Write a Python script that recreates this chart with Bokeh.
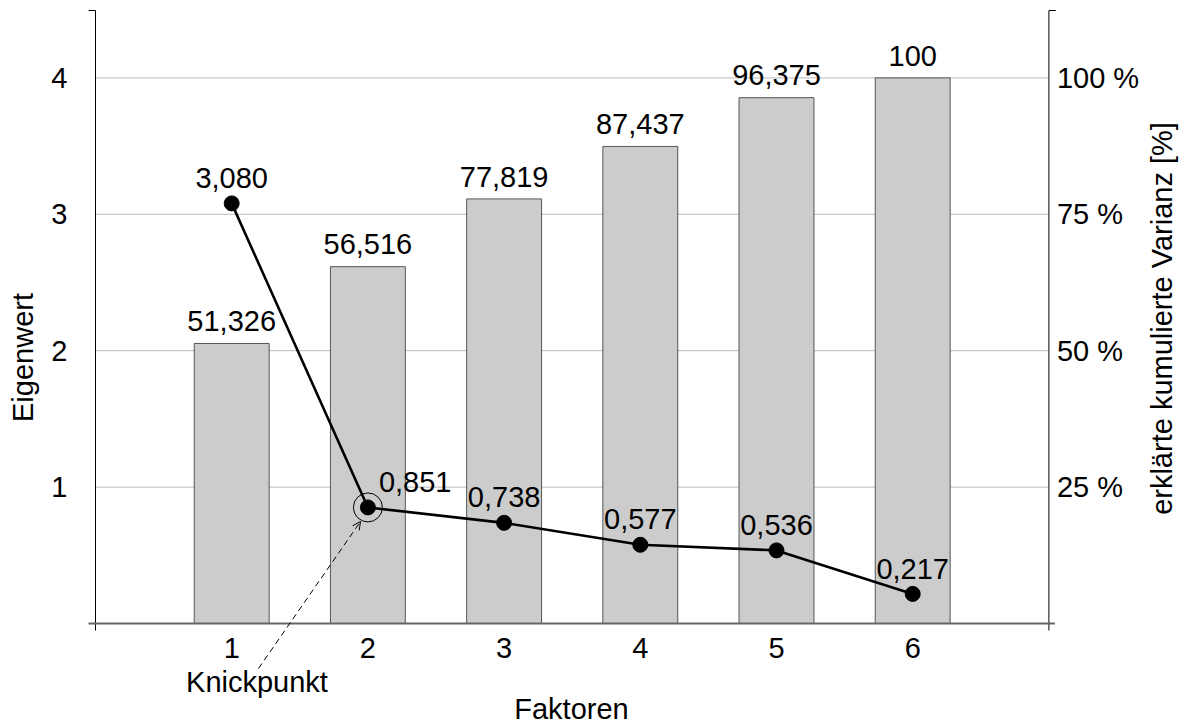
import math
from bokeh.plotting import figure
from bokeh.models import Range1d, LinearAxis, FixedTicker, Label, Arrow, OpenHead
from bokeh.core.properties import value
from bokeh.embed import file_html
from bokeh.resources import INLINE

# ---------------- data ----------------
factors = [1, 2, 3, 4, 5, 6]
eigenvalues = [3.080, 0.851, 0.738, 0.577, 0.536, 0.217]
eigen_labels = ["3,080", "0,851", "0,738", "0,577", "0,536", "0,217"]
cum_variance = [51.326, 65.4, 77.819, 87.437, 96.375, 100.0]   # bar heights as drawn
cum_labels = ["51,326", "56,516", "77,819", "87,437", "96,375", "100"]
left_ticks = [1, 2, 3, 4]
right_ticks = [25, 50, 75, 100]
right_tick_labels = ["25 %", "50 %", "75 %", "100 %"]
knick_factor = 2

# ---------------- geometry (pixels) ----------------
W, H = 1186, 726
X0_PX, UX = 95, 136.2                 # px of factor 0, px per factor
Y0_PX, UY = 623, 136.4                # px of eigenvalue 0, px per unit
PCT = 25.0                            # percent per eigenvalue unit
MID = 10.4                            # px from text baseline to middle of caps

def dx(px):
    return (px - X0_PX) / UX

def dy(px):
    return (Y0_PX - px) / UY

FONT = "Liberation Sans"
FS = "29px"

p = figure(width=W, height=H,
           x_range=Range1d(dx(0), dx(W)),
           y_range=Range1d(dy(H), dy(0)),
           min_border=0,
           output_backend="svg", toolbar_location=None,
           x_axis_location=None, y_axis_location=None)
p.extra_y_ranges = {"pct": Range1d(dy(H) * PCT, dy(0) * PCT)}
p.outline_line_color = None
p.xgrid.visible = False
p.ygrid.visible = False
p.background_fill_color = "white"
p.border_fill_color = "white"

x_left, x_right = 0, len(factors) + 1

def style_axis(ax, standoff):
    ax.axis_line_color = None
    ax.major_tick_line_color = None
    ax.minor_tick_line_color = None
    ax.major_tick_out = 0
    ax.major_tick_in = 0
    ax.minor_tick_out = 0
    ax.minor_tick_in = 0
    ax.major_label_text_font = FONT
    ax.major_label_text_font_size = FS
    ax.major_label_text_color = "black"
    ax.major_label_standoff = standoff

xaxis = LinearAxis(ticker=FixedTicker(ticks=factors), fixed_location=0)
style_axis(xaxis, 14)
p.add_layout(xaxis, "below")

yaxis = LinearAxis(ticker=FixedTicker(ticks=left_ticks), fixed_location=x_left)
style_axis(yaxis, 28)
p.add_layout(yaxis, "left")

raxis = LinearAxis(y_range_name="pct", ticker=FixedTicker(ticks=right_ticks),
                   fixed_location=x_right,
                   major_label_overrides={t: l for t, l in zip(right_ticks, right_tick_labels)})
style_axis(raxis, 8)
p.add_layout(raxis, "right")

# gridlines
p.segment(x0=[x_left] * len(left_ticks), y0=left_ticks,
          x1=[x_right] * len(left_ticks), y1=left_ticks,
          line_color="#bbbbbb", line_width=1)

# bars
p.vbar(x=factors, top=cum_variance, bottom=0, width=0.55, y_range_name="pct",
       fill_color="#cccccc", line_color="#555555", line_width=1)

# axis lines
p.segment(x0=[x_left, x_right], y0=[dy(630)] * 2, x1=[x_left, x_right], y1=[dy(10)] * 2,
          line_color="black", line_width=1)
p.segment(x0=[x_left, x_right], y0=[dy(10)] * 2,
          x1=[x_left - 7 / UX, x_right + 7 / UX], y1=[dy(10)] * 2,
          line_color="black", line_width=1)
p.segment(x0=[x_left - 7 / UX], y0=[0], x1=[x_right + 6 / UX], y1=[0],
          line_color="#666666", line_width=2)

# bar labels (baseline 12 px above bar top)
p.text(x=factors, y=[v + (12 + MID) / UY * PCT for v in cum_variance], text=cum_labels,
       y_range_name="pct", text_align="center", text_baseline="middle",
       text_font=value(FONT), text_font_size=value(FS), text_color="black")

# scree line
p.line(factors, eigenvalues, line_color="black", line_width=2.6)
p.scatter(factors, eigenvalues, size=15, fill_color="black", line_color="black")

# eigenvalue labels (baseline 15 px above point)
label_dx = [0, 11, 0, 0, 0, 0]
label_align = ["center", "left", "center", "center", "center", "center"]
for f, e, t, ddx, al in zip(factors, eigenvalues, eigen_labels, label_dx, label_align):
    p.add_layout(Label(x=f + ddx / UX, y=e + (15 + MID) / UY, text=t, text_align=al,
                       text_baseline="middle", text_font=FONT, text_font_size=FS,
                       text_color="black"))

# Knickpunkt marker
ke = eigenvalues[knick_factor - 1]
p.scatter([knick_factor], [ke], size=29, fill_color=None, line_color="black", line_width=1)
p.add_layout(Arrow(end=OpenHead(size=8, line_width=1, line_color="black"),
                   x_start=dx(258), y_start=dy(668), x_end=dx(360), y_end=dy(521),
                   line_color="black", line_width=1, line_dash="6 4"))
p.add_layout(Label(x=dx(256.5), y=dy(692 - MID), text="Knickpunkt", text_align="center",
                   text_baseline="middle", text_font=FONT, text_font_size=FS,
                   text_color="black"))

# axis titles
p.add_layout(Label(x=dx(571), y=dy(719 - MID), text="Faktoren", text_align="center",
                   text_baseline="middle", text_font=FONT, text_font_size=FS,
                   text_color="black"))
p.add_layout(Label(x=dx(33 - MID), y=dy(357), text="Eigenwert", text_align="center",
                   text_baseline="middle", text_font=FONT, text_font_size=FS,
                   text_color="black", angle=math.pi / 2))
p.add_layout(Label(x=dx(1172 - MID), y=dy(318), text="erklärte kumulierte Varianz [%]",
                   text_align="center", text_baseline="middle", text_font=FONT,
                   text_font_size=FS, text_color="black", angle=math.pi / 2))

open("out.html", "w").write(file_html(p, INLINE))
